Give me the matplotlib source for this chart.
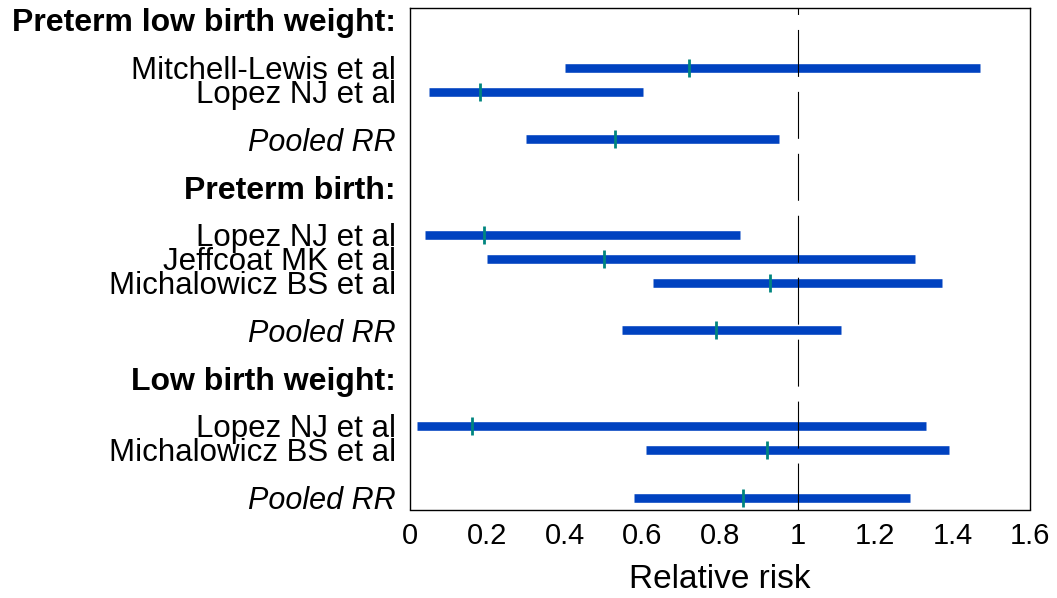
import numpy as np
import matplotlib
matplotlib.use("Agg")
import matplotlib.pyplot as plt

plt.rcParams['font.family'] = ['Liberation Sans', 'DejaVu Sans']
plt.rcParams['lines.scale_dashes'] = False

# ---- data ----
labels = ["Preterm low birth weight:", "Mitchell-Lewis et al", "Lopez NJ et al", "Pooled RR",
          "Preterm birth:", "Lopez NJ et al", "Jeffcoat MK et al", "Michalowicz BS et al", "Pooled RR",
          "Low birth weight:", "Lopez NJ et al", "Michalowicz BS et al", "Pooled RR"]
kinds = ["header", "study", "study", "pooled",
         "header", "study", "study", "study", "pooled",
         "header", "study", "study", "pooled"]
rr = [np.nan, 0.72, 0.18, 0.53,
      np.nan, 0.19, 0.50, 0.93, 0.79,
      np.nan, 0.16, 0.92, 0.86]
ci_low = [np.nan, 0.40, 0.048, 0.30,
          np.nan, 0.038, 0.198, 0.628, 0.548,
          np.nan, 0.019, 0.608, 0.579]
ci_high = [np.nan, 1.47, 0.60, 0.953,
           np.nan, 0.852, 1.302, 1.372, 1.112,
           np.nan, 1.332, 1.391, 1.291]
rows = [0, 2, 3, 5, 7, 9, 10, 11, 13, 15, 17, 18, 20]
xticks = [0, 0.2, 0.4, 0.6, 0.8, 1, 1.2, 1.4, 1.6]
xticklabels = ["0", "0.2", "0.4", "0.6", "0.8", "1", "1.2", "1.4", "1.6"]

fig = plt.figure(figsize=(10.57, 5.98), dpi=100)
ax = fig.add_axes([410/1057, 88.5/598, 620/1057, 501.5/598])

bar_color = '#0042c0'
pt_color = '#00857f'

for r, lo, hi, est in zip(rows, ci_low, ci_high, rr):
    if np.isnan(est):
        continue
    ax.plot([lo, hi], [r, r], color=bar_color, lw=6.2, solid_capstyle='butt', zorder=2)
    ax.plot([est], [r], marker='|', color=pt_color, markersize=12.5, mew=2.0, zorder=4, ls='none')

ax.axvline(1, color='black', lw=0.8, dashes=(33.8, 10.8), zorder=3)

ax.set_xlim(0, 1.6)
ax.set_ylim(20.5, -0.5)
ax.set_xticks(xticks)
ax.set_xticklabels(xticklabels, fontsize=21)
ax.set_yticks(rows)
ax.set_yticklabels(labels, fontsize=22)
for tl, k in zip(ax.get_yticklabels(), kinds):
    if k == "header":
        tl.set_fontweight('bold')
        tl.set_fontsize(23)
    elif k == "pooled":
        tl.set_fontstyle('italic')
        tl.set_fontsize(22)
    else:
        tl.set_fontsize(22.5)
ax.tick_params(axis='both', length=0)
ax.tick_params(axis='y', pad=10)
ax.tick_params(axis='x', pad=9)
ax.set_xlabel("Relative risk", fontsize=24, labelpad=10)
for s in ax.spines.values():
    s.set_linewidth(1.0)
    s.set_color('black')

fig.savefig("out.png", dpi=100)
